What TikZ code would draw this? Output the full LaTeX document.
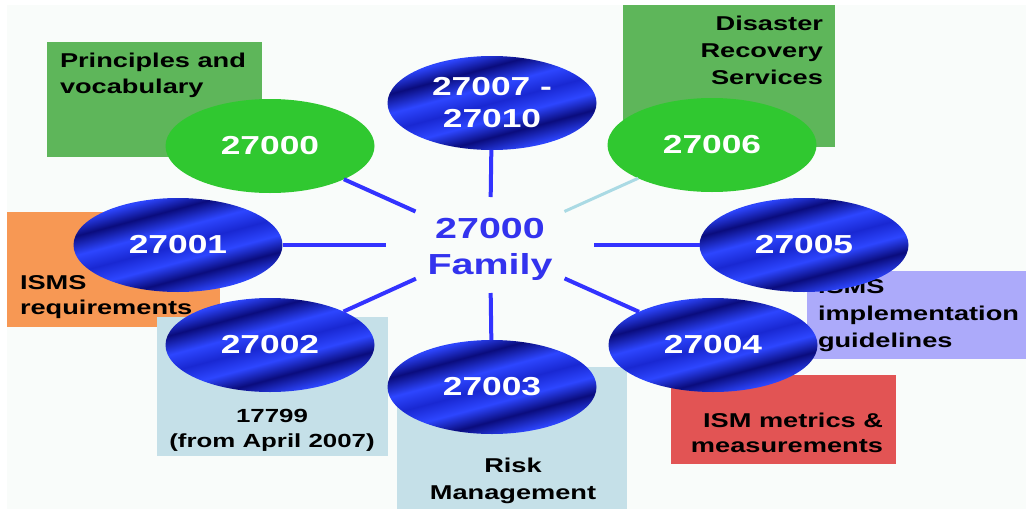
\documentclass[tikz,border=0pt]{standalone}
\usepackage{fontspec}
\setmainfont{Liberation Sans}
\newfontfamily\wf[FakeStretch=1.36]{Liberation Sans}
\usetikzlibrary{shapes.geometric}
\definecolor{bg}{RGB}{249,252,250}
\definecolor{boxgreen}{RGB}{94,182,90}
\definecolor{ellgreen}{RGB}{48,200,48}
\definecolor{boxorange}{RGB}{247,152,84}
\definecolor{boxlav}{RGB}{172,170,250}
\definecolor{boxlblue}{RGB}{197,224,232}
\definecolor{boxred}{RGB}{226,84,84}
\definecolor{lineblue}{RGB}{51,51,255}
\definecolor{hubblue}{RGB}{51,51,238}
\definecolor{lightline}{RGB}{170,218,228}
\definecolor{bdk}{RGB}{10,12,125}
\definecolor{bbr}{RGB}{45,70,255}
\definecolor{bmd}{RGB}{25,40,210}
\pgfdeclarehorizontalshading{bluebands}{100bp}{color(0bp)=(bdk); color(20bp)=(bdk); color(28bp)=(bbr); color(35bp)=(bdk); color(43bp)=(bbr); color(50bp)=(bmd); color(57bp)=(bbr); color(64bp)=(bdk); color(72bp)=(bbr); color(80bp)=(bdk); color(100bp)=(bdk)}
\tikzset{
  lbl/.style={inner sep=0pt, outer sep=0pt, text=black, font=\wf\bfseries\fontsize{20}{26}\selectfont},
  ellbase/.style={ellipse, minimum width=209pt, minimum height=94pt, inner sep=0pt, outer sep=0pt, text=white, align=center, font=\wf\bfseries\fontsize{26}{32}\selectfont},
  gell/.style={ellbase, fill=ellgreen},
  bell/.style={ellbase, shading=bluebands, shading angle=-75},
  hubtext/.style={text=hubblue, align=center, inner sep=0pt, font=\wf\bfseries\fontsize{29}{36}\selectfont},
  conn/.style={draw=lineblue, line width=4pt},
  lconn/.style={draw=lightline, line width=3pt}
}
\begin{document}
\begin{tikzpicture}[x=1pt,y=-1pt]
\useasboundingbox (0,0) rectangle (1026,509);
\fill[white] (0,0) rectangle (1026,509);
\fill[bg] (7,5) rectangle (1026,509);
% boxes
\fill[boxgreen] (47,42) rectangle (262,157);
\fill[boxgreen] (623,5) rectangle (835,147);
\fill[boxorange] (7,212) rectangle (220,327);
\fill[boxlblue] (157,317) rectangle (388,456);
\fill[boxlblue] (397,367) rectangle (627,509);
\fill[boxlav] (807,271) rectangle (1026,359);
\fill[boxred] (671,375) rectangle (896,464);
% labels
\node[lbl, anchor=north west, align=left] (tprin) at (60,53) {Principles and\\vocabulary};
\node[lbl, anchor=north east, align=right, font=\wf\bfseries\fontsize{20}{27}\selectfont] (tdis) at (823,16) {Disaster\\Recovery\\Services};
\node[lbl, anchor=north west, align=left, font=\wf\bfseries\fontsize{20}{25}\selectfont] (treq) at (20,276) {ISMS\\requirements};
\node[lbl, anchor=north west, align=left, font=\wf\bfseries\fontsize{20}{27}\selectfont] (timpl) at (818,280) {ISMS\\implementation\\guidelines};
\node[lbl, anchor=north east, align=right, font=\wf\bfseries\fontsize{20}{25}\selectfont] (tmet) at (883,413) {ISM metrics \&\\measurements};
\node[lbl, anchor=north, align=center, font=\wf\bfseries\fontsize{19}{25}\selectfont] (t17799) at (272,409) {17799\\(from April 2007)};
\node[lbl, anchor=north, align=center, font=\wf\bfseries\fontsize{20}{27}\selectfont] (trisk) at (513,458) {Risk\\Management};
% hub
\node[ellipse, minimum width=208pt, minimum height=96pt, inner sep=0pt, outer sep=0pt,
      label={[hubtext, yshift=-4pt]center:{27000\\Family}}] (hub) at (490,245) {};
% ellipses
\node[gell] (e27000) at (270,146) {27000};
\node[bell] (e27007) at (492,103) {27007 -\\27010};
\node[gell] (e27006) at (712,145) {27006};
\node[bell] (e27001) at (178,245) {27001};
\node[bell] (e27005) at (804,245) {27005};
\node[bell] (e27002) at (270,345) {27002};
\node[bell] (e27004) at (713,345) {27004};
\node[bell] (e27003) at (492,387) {27003};
% connectors
\draw[conn] (e27000) -- (hub);
\draw[conn] (e27007) -- (hub);
\draw[lconn] (e27006) -- (hub);
\draw[conn] (e27001) -- (hub);
\draw[conn] (e27005) -- (hub);
\draw[conn] (e27002) -- (hub);
\draw[conn] (e27004) -- (hub);
\draw[conn] (e27003) -- (hub);
\end{tikzpicture}
\end{document}
